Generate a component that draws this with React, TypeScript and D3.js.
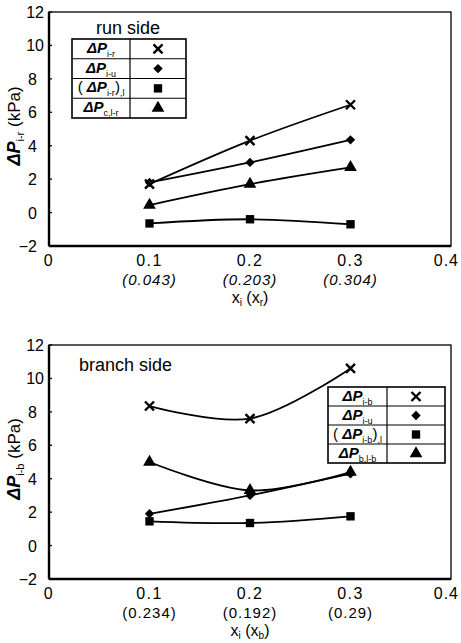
import React, { useEffect, useRef } from 'react'
import * as d3 from 'd3'

// x positions (x_i) and the secondary tick labels
const xValues = [0.1, 0.2, 0.3]
const xMainTicks = [0, 0.1, 0.2, 0.3, 0.4]
const yTicks = [-2, 0, 2, 4, 6, 8, 10, 12]
const runSubLabels = ['(0.043)', '(0.203)', '(0.304)']
const branchSubLabels = ['(0.234)', '(0.192)', '(0.29)']

// run side (kPa)
const runCross = [1.7, 4.3, 6.45]
const runDiamond = [1.8, 3.0, 4.35]
const runSquare = [-0.65, -0.4, -0.7]
const runTriangle = [0.45, 1.7, 2.7]

// branch side (kPa)
const branchCross = [8.35, 7.6, 10.6]
const branchDiamond = [1.9, 3.0, 4.3]
const branchSquare = [1.45, 1.35, 1.75]
const branchTriangle = [5.0, 3.3, 4.4]

// legend labels: [prefix, subscript, suffix, trailing subscript]
const runLegend = [['', 'i-r', '', ''], ['', 'i-u', '', ''], ['( ', 'i-r', ')', ',l'], ['', 'c,l-r', '', '']]
const branchLegend = [['', 'i-b', '', ''], ['', 'i-u', '', ''], ['( ', 'i-b', ')', ',l'], ['', 'b,l-b', '', '']]

const FONT = "'Liberation Sans', Arial, sans-serif"
const markerKinds = ['cross', 'diamond', 'square', 'triangle']

function drawMarker(g: any, kind: string, cx: number, cy: number) {
  if (kind === 'cross') {
    g.append('path')
      .attr('d', 'M-4.5,-4.5L4.5,4.5M-4.5,4.5L4.5,-4.5')
      .attr('transform', `translate(${cx},${cy})`)
      .attr('stroke', '#000').attr('stroke-width', 2.4).attr('fill', 'none')
    return
  }
  let sym = d3.symbolSquare, size = 44, rot = 45
  if (kind === 'square') { size = 70; rot = 0 }
  if (kind === 'triangle') { sym = d3.symbolTriangle; size = 70; rot = 0 }
  g.append('path')
    .attr('d', d3.symbol(sym, size)())
    .attr('transform', `translate(${cx},${cy}) rotate(${rot})`)
    .attr('fill', '#000')
}

function drawPanel(svg: any, p: any) {
  const left = 49, right = 451
  const x = d3.scaleLinear().domain([0, 0.4]).range([left, right])
  const y = d3.scaleLinear().domain([-2, 12]).range([p.bottom, p.top])
  const g = svg.append('g')

  // frame
  g.append('rect').attr('x', left).attr('y', p.top).attr('width', right - left).attr('height', p.bottom - p.top)
    .attr('fill', 'none').attr('stroke', '#000').attr('stroke-width', 1.3)
  g.append('line').attr('x1', left).attr('x2', left).attr('y1', p.top).attr('y2', p.bottom)
    .attr('stroke', '#000').attr('stroke-width', 2.4)
  g.append('line').attr('x1', left).attr('x2', right).attr('y1', p.bottom).attr('y2', p.bottom)
    .attr('stroke', '#000').attr('stroke-width', 2.4)

  // y ticks
  yTicks.forEach(t => {
    g.append('line').attr('x1', left).attr('x2', left + 3).attr('y1', y(t)).attr('y2', y(t))
      .attr('stroke', '#000').attr('stroke-width', 1.3)
    g.append('text').attr('x', t >= 10 ? 44 : 37).attr('y', y(t) + 6).attr('text-anchor', 'end')
      .style('font-family', FONT).style('font-size', '16px')
      .text(t < 0 ? '\u2212' + Math.abs(t) : String(t))
  })

  // x ticks (the last label sits inside the page edge)
  xMainTicks.forEach(t => {
    const last = t === 0.4
    g.append('text').attr('x', last ? 459 : x(t)).attr('y', p.bottom + 20)
      .attr('text-anchor', last ? 'end' : 'middle')
      .style('font-family', FONT).style('font-size', '16px').style('letter-spacing', last ? '1px' : '1.5px')
      .text(t === 0 ? '0' : t.toFixed(1))
  })
  xValues.forEach((v, i) => {
    g.append('text').attr('x', x(v)).attr('y', p.bottom + 39).attr('text-anchor', 'middle')
      .style('font-family', FONT).style('font-size', '15px').style('letter-spacing', '1px')
      .style('font-style', p.italicSub ? 'italic' : 'normal')
      .text(p.subLabels[i])
  })

  // x title
  const xt = g.append('text').attr('x', 250).attr('y', p.bottom + 57).attr('text-anchor', 'middle')
    .style('font-family', FONT).style('font-size', '16px')
  xt.append('tspan').text('x')
  xt.append('tspan').attr('dy', 3).style('font-size', '10px').text('i')
  xt.append('tspan').attr('dy', -3).text(' (x')
  xt.append('tspan').attr('dy', 3).style('font-size', '10px').text(p.xSub)
  xt.append('tspan').attr('dy', -3).text(')')

  // y title
  const cy = (p.top + p.bottom) / 2 - 3
  const yt = g.append('text').attr('transform', `translate(20,${cy}) rotate(-90)`).attr('text-anchor', 'middle')
    .style('font-family', FONT).style('font-size', '17px')
  yt.append('tspan').style('font-weight', 'bold').style('font-style', 'italic').style('font-size', '18px').text('\u0394P')
  yt.append('tspan').attr('dy', 4).style('font-size', '11px').text(p.ySub)
  yt.append('tspan').attr('dy', -4).text(' (kPa)')

  // lines + markers
  const line = d3.line<number>()
    .x((d, i) => x(xValues[i]))
    .y(d => y(d))
    .curve(d3.curveCatmullRom.alpha(0.5))
  p.series.forEach((s: number[], k: number) => {
    g.append('path').attr('d', line(s)).attr('fill', 'none').attr('stroke', '#000').attr('stroke-width', 1.8)
    s.forEach((v, i) => drawMarker(g, markerKinds[k], x(xValues[i]), y(v)))
  })

  // side caption
  g.append('text').attr('x', p.captionX).attr('y', p.captionY).attr('text-anchor', p.captionAnchor)
    .style('font-family', FONT).style('font-size', '18px').text(p.caption)

  // legend table
  const L = p.legend
  const lg = g.append('g')
  lg.append('rect').attr('x', L.x).attr('y', L.y).attr('width', L.w).attr('height', L.rowH * 4)
    .attr('fill', '#fff').attr('stroke', '#000').attr('stroke-width', 1.6)
  lg.append('line').attr('x1', L.x + L.split).attr('x2', L.x + L.split).attr('y1', L.y).attr('y2', L.y + L.rowH * 4)
    .attr('stroke', '#000').attr('stroke-width', 1.2)
  d3.range(1, 4).forEach(r => {
    lg.append('line').attr('x1', L.x).attr('x2', L.x + L.w).attr('y1', L.y + r * L.rowH).attr('y2', L.y + r * L.rowH)
      .attr('stroke', '#000').attr('stroke-width', 1.2)
  })
  p.legendLabels.forEach((lab: string[], r: number) => {
    const ry = L.y + r * L.rowH
    const t = lg.append('text').attr('x', L.x + L.split / 2).attr('y', ry + L.rowH / 2 + 4).attr('text-anchor', 'middle')
      .style('font-family', FONT).style('font-size', '15px')
    if (lab[0]) t.append('tspan').text(lab[0])
    t.append('tspan').style('font-weight', 'bold').style('font-style', 'italic').text('\u0394P')
    t.append('tspan').attr('dy', 4).style('font-size', '9px').text(lab[1])
    if (lab[2]) {
      t.append('tspan').attr('dy', -4).text(lab[2])
      t.append('tspan').attr('dy', 4).style('font-size', '9px').text(lab[3])
    }
    drawMarker(lg, markerKinds[r], L.x + L.split + (L.w - L.split) / 2, ry + L.rowH / 2)
  })
}

export default function App() {
  const ref = useRef<SVGSVGElement>(null)

  useEffect(() => {
    document.body.style.margin = '0'
    const svg = d3.select(ref.current)
    svg.selectAll('*').remove()
    svg.append('rect').attr('width', 461).attr('height', 643).attr('fill', '#fff')

    drawPanel(svg, {
      top: 12, bottom: 246, subLabels: runSubLabels, italicSub: true, xSub: 'r', ySub: 'i-r',
      series: [runCross, runDiamond, runSquare, runTriangle],
      caption: 'run side', captionX: 128, captionY: 34, captionAnchor: 'middle',
      legend: { x: 72, y: 39, w: 114, split: 58, rowH: 19.75 },
      legendLabels: runLegend,
    })
    drawPanel(svg, {
      top: 345, bottom: 579, subLabels: branchSubLabels, italicSub: false, xSub: 'b', ySub: 'i-b',
      series: [branchCross, branchDiamond, branchSquare, branchTriangle],
      caption: 'branch side', captionX: 79, captionY: 371, captionAnchor: 'start',
      legend: { x: 328, y: 387, w: 117, split: 59, rowH: 19 },
      legendLabels: branchLegend,
    })
  }, [])

  return <svg ref={ref} width={461} height={643} style={{ display: 'block' }} />
}
